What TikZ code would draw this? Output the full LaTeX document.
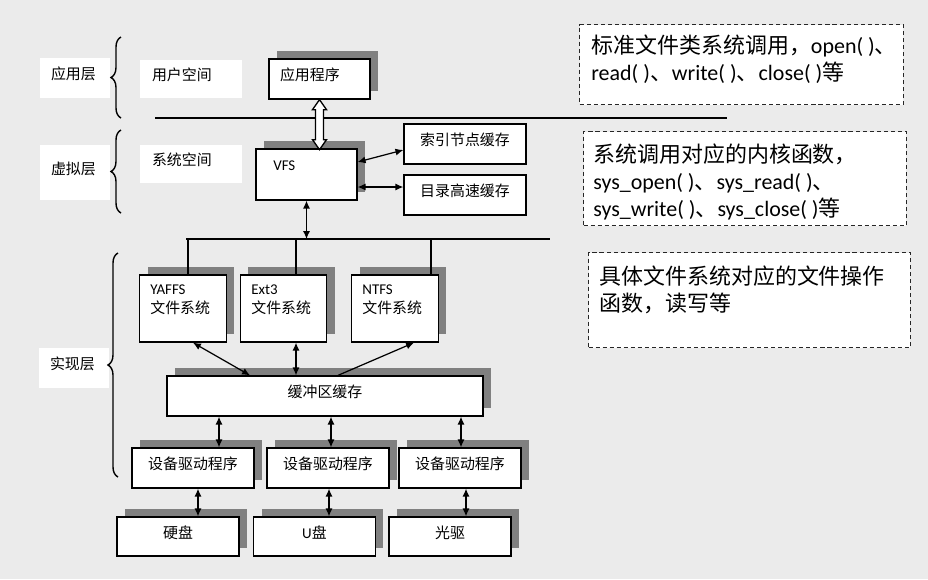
\documentclass[tikz,border=0pt]{standalone}
\usepackage{fontspec}
\setmainfont{Carlito}
\newfontfamily\cjk{Noto Sans CJK SC}
\usetikzlibrary{arrows.meta,shadows,decorations.pathreplacing,calc}
\definecolor{paper}{HTML}{EBEBEB}
\definecolor{shadowgray}{HTML}{808080}
\newcommand{\zh}[1]{{\cjk #1}}
\tikzset{
  sm/.style={font=\fontsize{8.5pt}{10.8pt}\selectfont},
  big/.style={font=\fontsize{12.5pt}{15.3pt}\selectfont},
  raise/.style={text height=6pt, text depth=4pt},
  box/.style={draw, fill=white, line width=0.75pt, inner sep=0pt, sm, raise},
  sbox/.style={box, general shadow={fill=shadowgray, shadow xshift=0.16cm, shadow yshift=0.17cm}},
  drv/.style={minimum width=2.44cm, minimum height=0.8cm},
  fsbox/.style={sbox, minimum width=1.73cm, minimum height=1.34cm},
  lay/.style={fill=white, sm, raise, align=left, inner xsep=0.22cm, inner ysep=0pt, text width=0.96cm, minimum height=0.8cm},
  spc/.style={lay, inner xsep=0.24cm, text width=1.56cm, minimum height=0.76cm},
  note/.style={draw=black!85, dash pattern=on 2.3pt off 1.7pt, line width=0.6pt, fill=white, inner sep=0pt, anchor=north west},
  nt/.style={big, align=left, inner sep=0pt, anchor=north west},
  both/.style={{Latex[length=4.5pt,width=4pt]}-{Latex[length=4.5pt,width=4pt]}, line width=0.7pt},
  one/.style={-{Latex[length=4.5pt,width=4pt]}, line width=0.7pt},
  brc/.style={decorate, decoration={brace, amplitude=5.7pt}, line width=0.8pt}
}

\begin{document}
\begin{tikzpicture}[x=0.02cm, y=-0.02cm]
	\fill[paper] (0,0) rectangle (928,579);
	\useasboundingbox (0,0) rectangle (928,579);
	% layers
	\node[lay] (lapp) at (75,78) {\zh{应用层}};
	\node[lay, minimum height=1.1cm] (lvir) at (75,172.5) {\zh{虚拟层}};
	\node[lay] (limp) at (74,367.5) {\zh{实现层}};
	\node[spc] (luser) at (191,79) {\zh{用户空间}};
	\node[spc] (lsys) at (191,164) {\zh{系统空间}};
	\draw[brc] (121,118) -- (121,37);
	\draw[brc] (121,213) -- (121,130);
	\draw[brc] (118,477) -- (118,253);
	% user / kernel
	\draw[line width=1.4pt] (155,118) -- (727,118);
	\node[sbox, align=left, text width=1.58cm, inner xsep=0.22cm, minimum height=0.8cm] (app) at (319.5,79) {\zh{应用程序}};
	\node[sbox, minimum width=2.02cm, minimum height=1.02cm] (vfs) at (306.5,174.5) {};
	\node[sm, anchor=west, inner sep=0pt] (vfst) at (273,166) {VFS};
	\node[box, drv] (idx) at (465,144) {\zh{索引节点缓存}};
	\node[box, drv] (dir) at (465,195) {\zh{目录高速缓存}};
	\draw[fill=white, line width=0.75pt] (app.south) -- ++(7,10) -- ++(-3,0) -- ++(0,30) -- ++(3,0) -- ++(-7,10)
		-- ++(-7,-10) -- ++(3,0) -- ++(0,-30) -- ++(-3,0) -- cycle;
	\draw[both] ($(vfs.east)+(0,-12.5)$) -- ($(idx.west)+(0,6)$);
	\draw[both] ($(vfs.east)+(0,12.5)$) -- ($(dir.west)+(0,-8)$);
	% file systems
	\coordinate (busl) at (186,239);
	\coordinate (busr) at (550,239);
	\draw[line width=1.1pt] (busl) -- (busr);
	\draw[both] (vfs.south) -- (vfs.south |- busl);
	\node[fsbox] (yaffs) at (183,308.5) {};
	\node[fsbox] (ext3) at (283.5,308.5) {};
	\node[fsbox] (ntfs) at (395,308.5) {};
	\node[sm, align=left, anchor=north west, inner sep=0pt] (yaffst) at (150,284) {YAFFS\\\zh{文件系统}};
	\node[sm, align=left, anchor=north west, inner sep=0pt] (ext3t) at (251,284) {Ext3\\\zh{文件系统}};
	\node[sm, align=left, anchor=north west, inner sep=0pt] (ntfst) at (362,284) {NTFS\\\zh{文件系统}};
	\foreach \x/\n in {188/yaffs, 296/ext3, 431/ntfs}
		\draw[line width=0.6pt] (\x,239) -- (\n.north -| \x,0);
	% buffer, drivers, disks
	\node[sbox, minimum width=6.32cm, minimum height=0.8cm] (buf) at (325,396) {\zh{缓冲区缓存}};
	\draw[both] ($(yaffs.south)+(10,0)$) -- ($(buf.north)+(-75,0)$);
	\draw[both] (ext3.south -| 296,0) -- (buf.north -| 296,0);
	\draw[one] ($(buf.north)+(13,0)$) -- ($(ntfs.south)+(19,0)$);
	\node[sbox, drv] (d1) at (193,468) {\zh{设备驱动程序}};
	\node[sbox, drv] (d2) at (328,468) {\zh{设备驱动程序}};
	\node[sbox, drv] (d3) at (460,468) {\zh{设备驱动程序}};
	\node[sbox, drv, minimum height=0.78cm] (k1) at (178,536.5) {\zh{硬盘}};
	\node[sbox, drv, minimum height=0.78cm] (k2) at (314.5,536.5) {U\zh{盘}};
	\node[sbox, drv, minimum height=0.78cm] (k3) at (450,536.5) {\zh{光驱}};
	\foreach \x/\n in {219/d1, 331/d2, 461/d3}
		\draw[both] (buf.south -| \x,0) -- (\n.north -| \x,0);
	\foreach \x/\a/\b in {198/d1/k1, 329/d2/k2, 466/d3/k3}
		\draw[both] (\a.south -| \x,0) -- (\b.north -| \x,0);
	% notes
	\node[note, minimum width=6.48cm, minimum height=1.6cm] (n1) at (579,24) {};
	\node[nt] (n1t) at (591,35) {\zh{标准文件类系统调用，}open( )\zh{、}\\read( )\zh{、}write( )\zh{、}close( )\zh{等}};
	\node[note, minimum width=6.46cm, minimum height=1.88cm] (n2) at (583,131) {};
	\node[nt] (n2t) at (593,144) {\zh{系统调用对应的内核函数，}\\sys\_open( )\zh{、}sys\_read( )\zh{、}\\sys\_write( )\zh{、}sys\_close( )\zh{等}};
	\node[note, minimum width=6.44cm, minimum height=1.9cm] (n3) at (588,252) {};
	\node[nt] (n3t) at (599,266) {\zh{具体文件系统对应的文件操作}\\\zh{函数，读写等}};
\end{tikzpicture}
\end{document}
